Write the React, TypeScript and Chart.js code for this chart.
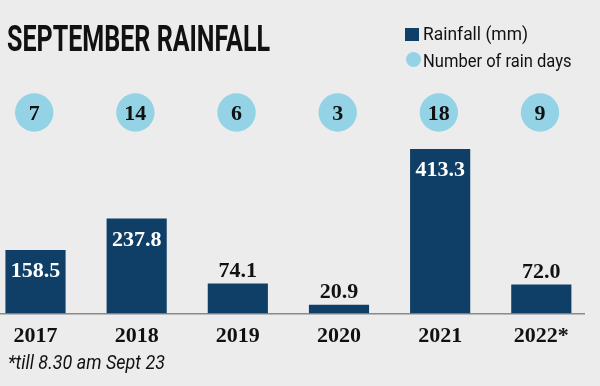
import React, { useEffect, useLayoutEffect, useRef } from "react";
import { Chart, registerables } from "chart.js";

Chart.register(...registerables);

const years = ["2017", "2018", "2019", "2020", "2021", "2022*"];
const rainfall = [158.5, 237.8, 74.1, 20.9, 413.3, 72.0];
const rainDays = [7, 14, 6, 3, 18, 9];

const NAVY = "#0f3f67";
const LIGHT_BLUE = "#93d3e5";
const BG = "#ececec";
const SERIF = '"Liberation Serif", "DejaVu Serif", serif';

const labelsPlugin = {
  id: "rainLabels",
  afterDatasetsDraw(chart: any) {
    const ctx = chart.ctx;
    const meta = chart.getDatasetMeta(0);
    ctx.save();
    ctx.textAlign = "center";
    ctx.textBaseline = "alphabetic";
    ctx.font = `bold 22px ${SERIF}`;
    meta.data.forEach((bar: any, i: number) => {
      const v = rainfall[i];
      const inside = v > 100;
      ctx.fillStyle = inside ? "#ffffff" : "#111111";
      const y = inside ? bar.y + 27 : bar.y - 7;
      ctx.fillText(v.toFixed(1), bar.x, y);
      // rain-day bubble row
      const cy = 112.5;
      ctx.beginPath();
      ctx.fillStyle = LIGHT_BLUE;
      ctx.arc(bar.x - 1.3, cy, 19.2, 0, Math.PI * 2);
      ctx.fill();
      ctx.fillStyle = "#111111";
      ctx.font = `bold 22px ${SERIF}`;
      ctx.fillText(String(rainDays[i]), bar.x - 1.3, cy + 7.5);
    });
    ctx.restore();
  },
};

function FitText(props: { text: string; left: number; top: number; width: number; style: React.CSSProperties }) {
  const ref = useRef<HTMLSpanElement>(null);
  useLayoutEffect(() => {
    const el = ref.current;
    if (!el) return;
    el.style.transform = "none";
    const w = el.getBoundingClientRect().width;
    el.style.transform = `scaleX(${props.width / w})`;
  }, [props.text, props.width]);
  return (
    <span
      ref={ref}
      style={{
        position: "absolute",
        left: props.left,
        top: props.top,
        whiteSpace: "nowrap",
        lineHeight: 1,
        transformOrigin: "0 0",
        color: "#111",
        ...props.style,
      }}
    >
      {props.text}
    </span>
  );
}

export default function App() {
  const canvasRef = useRef<HTMLCanvasElement>(null);

  useEffect(() => {
    document.body.style.margin = "0";
    const canvas = canvasRef.current!;
    const chart = new Chart(canvas, {
      type: "bar",
      data: {
        datasets: [
          {
            label: "Rainfall (mm)",
            data: rainfall.map((v, i) => ({ x: i, y: v })),
            backgroundColor: NAVY,
            borderWidth: 0,
            barThickness: 59.5,
          },
        ],
      },
      options: {
        responsive: false,
        animation: false,
        devicePixelRatio: 1,
        layout: { padding: { top: 134.7, right: 16, left: 0, bottom: 0 } },
        plugins: {
          legend: { display: false },
          title: { display: false },
          tooltip: { enabled: false },
        },
        scales: {
          x: {
            type: "linear",
            offset: false,
            min: -0.351,
            max: 5.422,
            grid: { display: false, drawTicks: false, offset: false },
            border: { display: true, color: "#8a8a8a", width: 1.5 },
            afterBuildTicks: (scale: any) => {
              scale.ticks = years.map((_, i) => ({ value: i }));
            },
            afterFit: (scale: any) => {
              scale.height = 386 - 313.3;
            },
            ticks: {
              autoSkip: false,
              maxRotation: 0,
              padding: 10,
              color: "#111",
              font: { family: SERIF, size: 22, weight: "bold" },
              callback: (v: any) => years[v as number] ?? "",
            },
          },
          y: {
            display: false,
            min: 0,
            max: 450,
          },
        },
      },
      plugins: [labelsPlugin],
    } as any);
    return () => chart.destroy();
  }, []);

  return (
    <div
      style={{
        position: "fixed",
        left: 0,
        top: 0,
        width: 600,
        height: 386,
        background: BG,
        overflow: "hidden",
      }}
    >
      <canvas ref={canvasRef} width={600} height={386} style={{ position: "absolute", left: 0, top: 0, width: 600, height: 386 }} />
      <FitText
        text="SEPTEMBER RAINFALL"
        left={7.3}
        top={19.5}
        width={263}
        style={{ fontFamily: "Roboto, sans-serif", fontWeight: 700, fontSize: 37 }}
      />
      <div style={{ position: "absolute", left: 405, top: 28, width: 14, height: 13, background: NAVY }} />
      <div
        style={{
          position: "absolute",
          left: 405.5,
          top: 52.2,
          width: 15,
          height: 15,
          borderRadius: "50%",
          background: LIGHT_BLUE,
        }}
      />
      <FitText
        text="Rainfall (mm)"
        left={423.3}
        top={24.8}
        width={105}
        style={{ fontFamily: "Roboto, sans-serif", fontWeight: 400, fontSize: 18 }}
      />
      <FitText
        text="Number of rain days"
        left={423.3}
        top={51.5}
        width={148.5}
        style={{ fontFamily: "Roboto, sans-serif", fontWeight: 400, fontSize: 18 }}
      />
      <FitText
        text="*till 8.30 am Sept 23"
        left={8.3}
        top={353}
        width={157}
        style={{ fontFamily: "Roboto, sans-serif", fontStyle: "italic", fontWeight: 400, fontSize: 19.6 }}
      />
    </div>
  );
}
